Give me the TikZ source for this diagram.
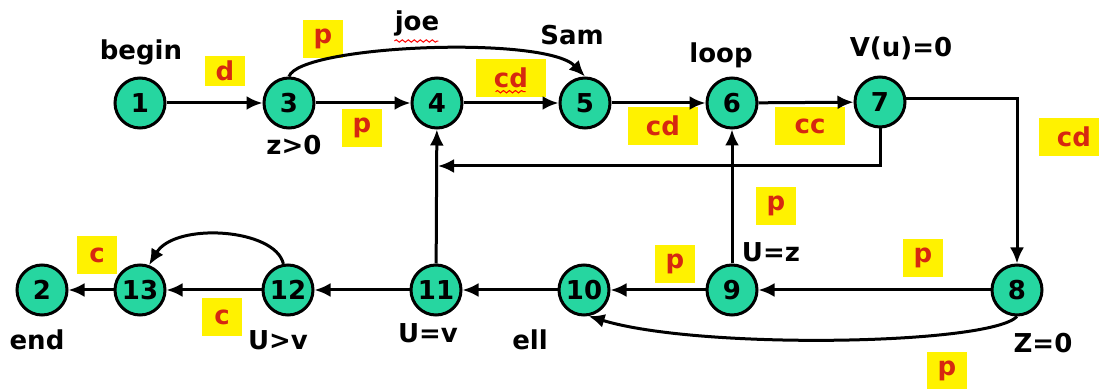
\documentclass[tikz,border=0pt]{standalone}
\usepackage{fontspec}
\setmainfont{DejaVu Sans}
\usetikzlibrary{arrows.meta,decorations.pathmorphing}
\definecolor{nodefill}{RGB}{38,214,160}
\definecolor{lblyellow}{RGB}{255,242,0}
\definecolor{lblred}{RGB}{214,40,16}
\begin{document}
\begin{tikzpicture}[x=0.5pt,y=-0.5pt,
  state/.style={circle,draw,line width=1.5pt,fill=nodefill,minimum size=25pt,inner sep=0pt,font=\fontsize{13}{15}\selectfont\bfseries},
  tag/.style={font=\fontsize{13}{15}\selectfont\bfseries,inner sep=0pt,anchor=base},
  lab/.style={fill=lblyellow,text=lblred,font=\fontsize{13}{15}\selectfont\bfseries,minimum height=19pt,inner sep=0pt},
  labone/.style={lab,minimum width=20pt},
  labtwo/.style={lab,minimum width=35pt},
  edge/.style={line width=1.5pt,-{Latex[length=8pt,width=7pt]}},
  wave/.style={draw=red,line width=0.5pt,decorate,decoration={snake,amplitude=0.6pt,segment length=3pt}}
]
\useasboundingbox (0,0) rectangle (1099,389);

% label boxes (drawn first)
\node[labone,minimum height=15pt] (ld) at (225,71) {d};
\node[labone] (lp1) at (323,39) {p};
\node[labone] (lp2) at (362,128) {p};
\node[labtwo] (lcd1) at (511,78) {cd};
\node[labtwo] (lcd2) at (663,126) {cd};
\node[labtwo] (lcc) at (810,126) {cc};
\node[labtwo] (lcd3) at (1074,137) {cd};
\node[labone] (lc1) at (97,255) {c};
\node[labone] (lc2) at (222,317) {c};
\node[labone] (lp3) at (675,264) {p};
\node[labone] (lp4) at (776,206) {p};
\node[labone] (lp5) at (923,258) {p};
\node[labone] (lp6) at (947,371) {p};

% states
\node[state] (n1) at (140,103) {1};
\node[state] (n3) at (289,103) {3};
\node[state] (n4) at (437,103) {4};
\node[state] (n5) at (585,103) {5};
\node[state] (n6) at (732,103) {6};
\node[state] (n7) at (880,102) {7};
\node[state] (n8) at (1017,290) {8};
\node[state] (n9) at (732,290) {9};
\node[state] (n10) at (584,290) {10};
\node[state] (n11) at (436,290) {11};
\node[state] (n12) at (288,290) {12};
\node[state] (n13) at (140,290) {13};
\node[state] (n2) at (42,290) {2};

% state tags
\node[tag] (tbegin) at (141,60) {begin};
\node[tag] (tz) at (294,155) {z>0};
\node[tag] (tjoe) at (417,31) {joe};
\node[tag] (tsam) at (572,45) {Sam};
\node[tag] (tloop) at (721,63) {loop};
\node[tag] (tv) at (901,57) {V(u)=0};
\node[tag] (tuz) at (771,262) {U=z};
\node[tag] (tz0) at (1043,353) {Z=0};
\node[tag] (tell) at (530,350) {ell};
\node[tag] (tuv) at (428,343) {U=v};
\node[tag] (tugv) at (278,350) {U>v};
\node[tag] (tend) at (37,350) {end};

% spell-check underlines
\draw[wave] (tjoe.south west) ++(0,4) -- ++(44,0);
\draw[wave] (lcd1.base west) ++(20,4) -- ++(30,0);

% edges
\coordinate (j4) at (438,166);
\draw[edge] (n1) -- (n3);
\draw[edge] (n3) -- (n4);
\draw[edge] (n4) -- (n5);
\draw[edge] (n5) -- (n6);
\draw[edge] (n6) -- (n7);
\draw[edge] (n3.north) .. controls (300,45) and (545,35) .. (n5.north);
\draw[edge] (n7.8) -| (n8.north);
\draw[edge] (n7.south) |- (j4);
\draw[edge] (n8) -- (n9);
\draw[edge] (n9) -- (n10);
\draw[edge] (n10) -- (n11);
\draw[edge] (n11) -- (n12);
\draw[edge] (n12) -- (n13);
\draw[edge] (n13) -- (n2);
\draw[edge] (n9) -- (n6);
\draw[edge] (n11) -- (n4);
\draw[edge] (n12.100) .. controls (275,228) and (175,222) .. (n13.70);
\draw[edge] (n8.south) .. controls (990,345) and (700,350) .. (n10.-80);
\end{tikzpicture}
\end{document}
